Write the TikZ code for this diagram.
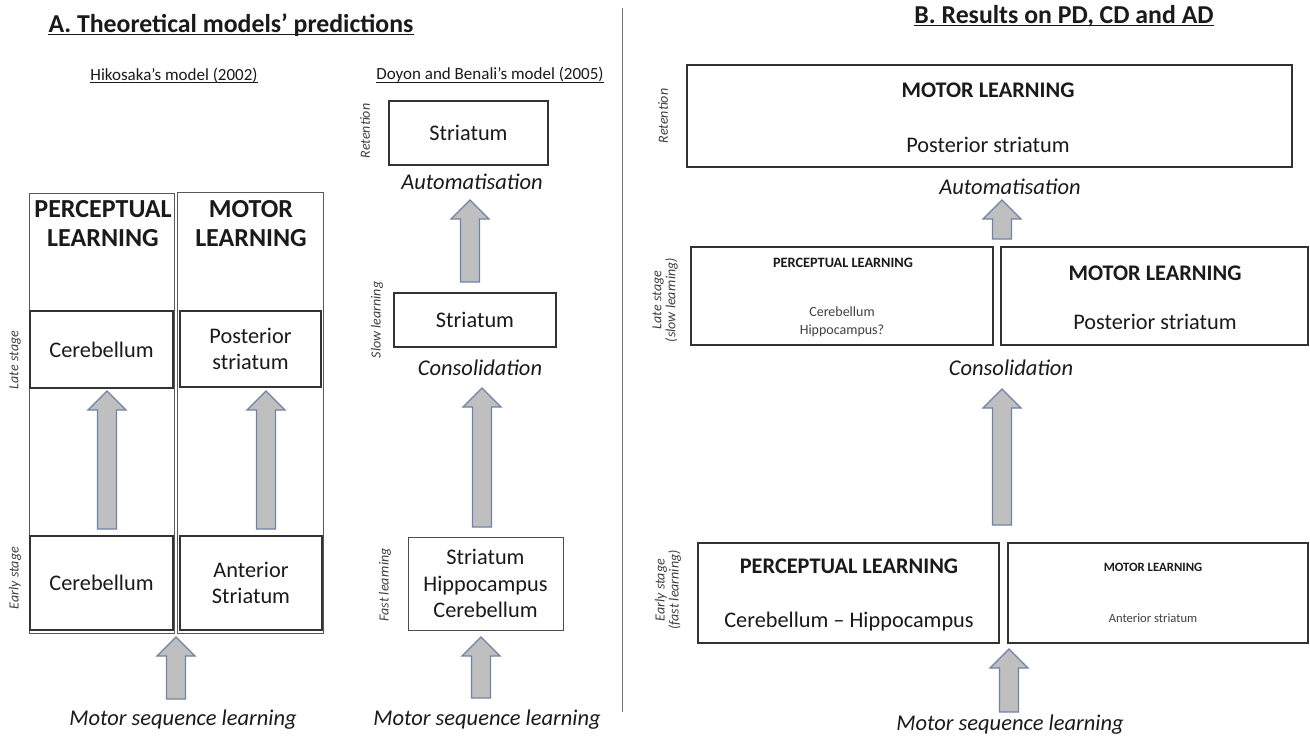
\documentclass[tikz,border=0pt]{standalone}
\usepackage{fontspec}
\setmainfont{Carlito}
\usetikzlibrary{calc}
\definecolor{arrfill}{HTML}{BFBFBF}
\definecolor{arrline}{HTML}{6F83AA}
\definecolor{txt}{HTML}{1A1A1A}
\definecolor{lbl}{HTML}{404040}
\newcommand{\blockarrow}[2]{%
  \path[blockarr] let \p1=(#1), \p2=(#2) in
    (\x1-9.5pt,\y1) -- (\x1-9.5pt,\y2-19pt) -- (\x1-19pt,\y2-19pt) -- (\x1,\y2)
    -- (\x1+19pt,\y2-19pt) -- (\x1+9.5pt,\y2-19pt) -- (\x1+9.5pt,\y1) -- cycle;}
\tikzset{
  blockarr/.style={fill=arrfill, draw=arrline, line width=1.3pt, line join=miter},
  box/.style={draw=black!80, line width=1.2pt, inner sep=0pt, text=txt, align=center},
  thinbox/.style={draw=black!70, line width=0.8pt, inner sep=0pt},
  colbox/.style={draw=black!65, line width=0.9pt, inner sep=0pt},
  title/.style={inner sep=0pt, text=txt, font=\bfseries\fontsize{25.8}{30}\selectfont},
  head/.style={inner sep=0pt, text=txt, font=\fontsize{17}{20}\selectfont},
  big/.style={text=txt, align=center, inner sep=0pt, font=\fontsize{22.3}{26.5}\selectfont},
  bigb/.style={text=txt, align=center, inner sep=0pt, font=\bfseries\fontsize{22.3}{26.5}\selectfont},
  hdrb/.style={text=txt, align=center, inner sep=0pt, font=\bfseries\fontsize{26}{29}\selectfont},
  small/.style={text=lbl, align=center, inner sep=0pt, font=\fontsize{14}{18}\selectfont},
  smallb/.style={text=txt, align=center, inner sep=0pt, font=\bfseries\fontsize{14.3}{16}\selectfont},
  smallr/.style={text=lbl, align=center, inner sep=0pt, font=\fontsize{12.6}{15}\selectfont},
  smallrb/.style={text=txt, align=center, inner sep=0pt, font=\bfseries\fontsize{12.7}{15}\selectfont},
  ital/.style={text=txt, inner sep=0pt, font=\itshape\fontsize{22.5}{26}\selectfont},
  stage/.style={text=lbl, align=center, inner sep=0pt, rotate=90, font=\itshape\fontsize{14}{14}\selectfont},
  uline/.style={line width=1.2pt, draw=txt}
}
\begin{document}
\begin{tikzpicture}[x=1pt,y=-1pt]
\useasboundingbox (0,0) rectangle (1310,737);
\fill[white] (0,0) rectangle (1310,737);

% ---------------- Titles ----------------
\node[title] (tA) at (231,25) {A. Theoretical models’ predictions};
\draw[uline] ([yshift=-2.5pt]tA.base west) -- ([yshift=-2.5pt]tA.base east);
\node[title] (tB) at (1064,16) {B. Results on PD, CD and AD};
\draw[uline] ([yshift=-2.5pt]tB.base west) -- ([yshift=-2.5pt]tB.base east);

\node[head] (hH) at (174,75) {Hikosaka’s model (2002)};
\draw[line width=0.8pt, draw=txt] ([yshift=-2.5pt]hH.base west) -- ([yshift=-2.5pt]hH.base east);
\node[head] (hD) at (490,75) {Doyon and Benali’s model (2005)};
\draw[line width=0.8pt, draw=txt] ([yshift=-2.5pt]hD.base west) -- ([yshift=-2.5pt]hD.base east);

% divider
\coordinate (dv1) at (622,8);
\coordinate (dv2) at (622,712);
\draw[black!55, line width=1pt] (dv1) -- (dv2);

% ---------------- Hikosaka ----------------
\node[colbox, minimum width=145pt, minimum height=440pt] (colP) at (101.5,413) {};
\node[colbox, minimum width=146pt, minimum height=441pt] (colM) at (250,412.5) {};
\node[box, minimum width=143pt, minimum height=77pt] (lateP) at (101.5,349.5) {};
\node[box, minimum width=141pt, minimum height=76pt] (lateM) at (250.5,349) {};
\node[box, minimum width=143pt, minimum height=94pt] (earlyP) at (101.5,583) {};
\node[box, minimum width=142pt, minimum height=94pt] (earlyM) at (251,583) {};

\node[hdrb] (hP) at (103,224) {PERCEPTUAL\\LEARNING};
\node[hdrb] (hM) at (251,224) {MOTOR\\LEARNING};
\node[big] (tLP) at (lateP.center) {Cerebellum};
\node[big] (tLM) at (lateM.center) {Posterior\\striatum};
\node[big] (tEP) at (earlyP.center) {Cerebellum};
\node[big] (tEM) at (earlyM.center) {Anterior\\Striatum};

\node[stage] (sLate) at (15,360) {Late stage};
\node[stage] (sEarly) at (15,578) {Early stage};

\coordinate (aLb) at (107,529); \coordinate (aLt) at (107,391);
\coordinate (aRb) at (266,529); \coordinate (aRt) at (266,391);
\coordinate (aBb) at (176,699); \coordinate (aBt) at (176,637);
\blockarrow{aLb}{aLt}
\blockarrow{aRb}{aRt}
\blockarrow{aBb}{aBt}
\node[ital] (msl1) at (183,720) {Motor sequence learning};

% ---------------- Doyon & Benali ----------------
\node[box, line width=1.1pt, minimum width=159pt, minimum height=64pt, font=\fontsize{22.3}{26.5}\selectfont] (ret) at (468.5,133) {Striatum};
\node[stage] (sRet) at (365,131) {Retention};
\node[ital] (auto1) at (472,182) {Automatisation};
\coordinate (m1b) at (470,282); \coordinate (m1t) at (470,200);
\blockarrow{m1b}{m1t}

\node[box, line width=1.1pt, minimum width=162pt, minimum height=54pt, font=\fontsize{22.3}{26.5}\selectfont] (slow) at (475,320) {Striatum};
\node[stage] (sSlow) at (377,320) {Slow learning};
\node[ital] (cons1) at (480,368) {Consolidation};
\coordinate (m2b) at (482,527); \coordinate (m2t) at (482,388);
\blockarrow{m2b}{m2t}

\node[thinbox, text=txt, align=center, minimum width=155pt, minimum height=93pt, font=\fontsize{22.3}{26.5}\selectfont] (fast) at (485.5,583.5) {Striatum\\Hippocampus\\Cerebellum};
\node[stage] (sFast) at (385,585) {Fast learning};
\coordinate (m3b) at (481,698); \coordinate (m3t) at (481,637);
\blockarrow{m3b}{m3t}
\node[ital] (msl2) at (487,720) {Motor sequence learning};

% ---------------- B. Results ----------------
\node[box, minimum width=605pt, minimum height=102pt] (top) at (989.5,116) {};
\node[bigb] (topT1) at (988,90) {MOTOR LEARNING};
\node[big] (topT2) at (988,145) {Posterior striatum};
\node[stage] (sRetB) at (663,116) {Retention};
\node[ital] (auto2) at (1010,187) {Automatisation};
\coordinate (r1b) at (1002,239); \coordinate (r1t) at (1002,200);
\blockarrow{r1b}{r1t}

\node[box, minimum width=302pt, minimum height=98pt] (lateL) at (842,296) {};
\node[smallb] (lateLT1) at (843,263) {PERCEPTUAL LEARNING};
\node[small] (lateLT2) at (842,322) {Cerebellum\\Hippocampus?};
\node[box, minimum width=307pt, minimum height=98pt] (lateR) at (1154.5,296) {};
\node[bigb] (lateRT1) at (1155,273) {MOTOR LEARNING};
\node[big] (lateRT2) at (1155,322) {Posterior striatum};
\node[stage] (sLateB) at (665,300) {Late stage\\(slow learning)};
\node[ital] (cons2) at (1011,368) {Consolidation};
\coordinate (r2b) at (1002,525); \coordinate (r2t) at (1002,389);
\blockarrow{r2b}{r2t}

\node[box, minimum width=301pt, minimum height=100pt] (earlyL) at (848.5,593) {};
\node[bigb] (earlyLT1) at (849,566) {PERCEPTUAL LEARNING};
\node[big] (earlyLT2) at (849,622) {Cerebellum – Hippocampus};
\node[box, minimum width=300pt, minimum height=100pt] (earlyR) at (1158,593) {};
\node[smallrb] (earlyRT1) at (1153,567) {MOTOR LEARNING};
\node[smallr] (earlyRT2) at (1153,618) {Anterior striatum};
\node[stage] (sEarlyB) at (668,590) {Early stage\\(fast learning)};
\coordinate (r3b) at (1009,712); \coordinate (r3t) at (1009,649);
\blockarrow{r3b}{r3t}
\node[ital] (msl3) at (1010,725) {Motor sequence learning};
\end{tikzpicture}
\end{document}
